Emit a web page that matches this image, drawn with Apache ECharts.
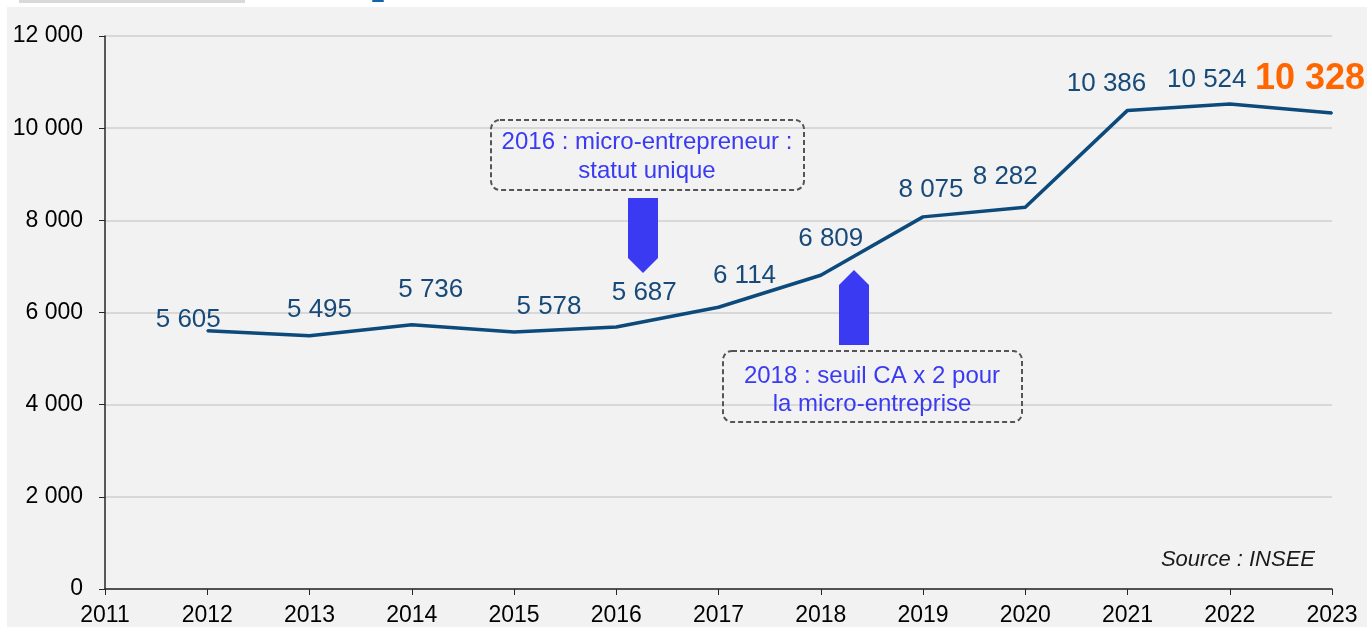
<!DOCTYPE html>
<html>
<head>
<meta charset="utf-8">
<script src="https://cdn.jsdelivr.net/npm/echarts@6/dist/echarts.min.js"></script>
<style>
  html, body { margin: 0; padding: 0; background: #ffffff; overflow: hidden; }
  .bg { position: absolute; left: 7px; top: 7px; right: 0; bottom: 0; background: #f2f2f2; }
  #chart { position: absolute; left: 0; top: 0; width: 1367px; height: 627px; }
</style>
</head>
<body>
<div class="bg"></div>
<div id="chart"></div>
<script>
// données (Source : INSEE)
const years = [2012, 2013, 2014, 2015, 2016, 2017, 2018, 2019, 2020, 2021, 2022, 2023]
const values = [5605, 5495, 5736, 5578, 5687, 6114, 6809, 8075, 8282, 10386, 10524, 10328]
const yTicks = [0, 2000, 4000, 6000, 8000, 10000, 12000]
const xTicks = [2011, 2012, 2013, 2014, 2015, 2016, 2017, 2018, 2019, 2020, 2021, 2022, 2023]
const notes = ['2016 : micro-entrepreneur :\nstatut unique', '2018 : seuil CA x 2 pour\nla micro-entreprise']
const sourceText = 'Source : INSEE'

// décalage des étiquettes (px) par rapport au point
const labelOffsets = [[-19, -11], [10, -26], [19, -35], [35, -25], [28, -34], [26, -31],
  [10, -36], [8, -27], [-20, -31], [-21, -27], [-23, -24], [-22, -34]]

const fmt = v => String(v).replace(/\B(?=(\d{3})+(?!\d))/g, ' ')
const FONT = 'Liberation Sans, Arial, sans-serif'
const noteColor = '#3a3af2'

const seriesData = years.map((y, i) => {
  const last = i === years.length - 1
  return {
    value: [y, values[i]],
    label: {
      offset: labelOffsets[i],
      color: last ? '#ff6600' : '#174a78',
      fontSize: last ? 36 : 26,
      fontWeight: last ? 'bold' : 'normal'
    }
  }
})

const chartOption = {
  backgroundColor: 'transparent',
  animation: false,
  grid: { left: 105, right: 35, top: 36, bottom: 37, containLabel: false },
  xAxis: {
    type: 'value',
    min: xTicks[0],
    max: xTicks[xTicks.length - 1],
    interval: 1,
    axisLine: { show: true, lineStyle: { color: '#262626', width: 1.5 } },
    axisTick: { show: true, length: 6, lineStyle: { color: '#262626', width: 1 } },
    axisLabel: { fontFamily: FONT, fontSize: 23, color: '#000000', margin: 15, formatter: v => String(v) },
    splitLine: { show: false }
  },
  yAxis: {
    type: 'value',
    min: yTicks[0],
    max: yTicks[yTicks.length - 1],
    interval: 2000,
    axisLine: { show: true, lineStyle: { color: '#262626', width: 1.5 } },
    axisTick: { show: true, length: 6, lineStyle: { color: '#262626', width: 1 } },
    axisLabel: { fontFamily: FONT, fontSize: 23, color: '#000000', margin: 22, formatter: v => fmt(v) },
    splitLine: { show: true, lineStyle: { color: '#cfcfcf', width: 1.5 } }
  },
  series: [{
    type: 'line',
    data: seriesData,
    symbol: 'circle',
    symbolSize: 2,
    showSymbol: true,
    itemStyle: { color: '#0d4a7c' },
    lineStyle: { color: '#0d4a7c', width: 3.5 },
    label: {
      show: true,
      position: 'inside',
      fontFamily: FONT,
      formatter: p => fmt(p.value[1])
    },
    z: 5
  }],
  graphic: [
    // reste du titre coupé en haut
    { type: 'rect', left: 19, top: 0, shape: { width: 226, height: 3 }, style: { fill: '#d9d9d9' } },
    { type: 'rect', left: 372, top: 0, shape: { width: 12, height: 2, r: 1 }, style: { fill: '#1464a8' } },
    // encadré 2016
    { type: 'rect', z: 10, shape: { x: 491, y: 120, width: 313, height: 70, r: 9 },
      style: { fill: 'transparent', stroke: '#555555', lineWidth: 2, lineDash: [5, 3] } },
    { type: 'text', z: 10, x: 647, y: 157,
      style: { text: notes[0], fill: noteColor, font: '24px ' + FONT, align: 'center', verticalAlign: 'middle', lineHeight: 29 } },
    { type: 'polygon', z: 10, shape: { points: [[628, 198], [658, 198], [658, 258], [643, 273], [628, 258]] },
      style: { fill: noteColor } },
    // encadré 2018
    { type: 'rect', z: 10, shape: { x: 723, y: 351, width: 299, height: 71, r: 9 },
      style: { fill: 'transparent', stroke: '#555555', lineWidth: 2, lineDash: [5, 3] } },
    { type: 'text', z: 10, x: 872, y: 390,
      style: { text: notes[1], fill: noteColor, font: '24px ' + FONT, align: 'center', verticalAlign: 'middle', lineHeight: 28 } },
    { type: 'polygon', z: 10, shape: { points: [[839, 345], [869, 345], [869, 285], [854, 270], [839, 285]] },
      style: { fill: noteColor } },
    // source
    { type: 'text', z: 10, x: 1315, y: 560,
      style: { text: sourceText, fill: '#1a1a1a', font: 'italic 22px ' + FONT, align: 'right', verticalAlign: 'middle' } }
  ]
}

const myChart = echarts.init(document.getElementById('chart'), null, { renderer: 'canvas' })
myChart.setOption(chartOption)
</script>
</body>
</html>
